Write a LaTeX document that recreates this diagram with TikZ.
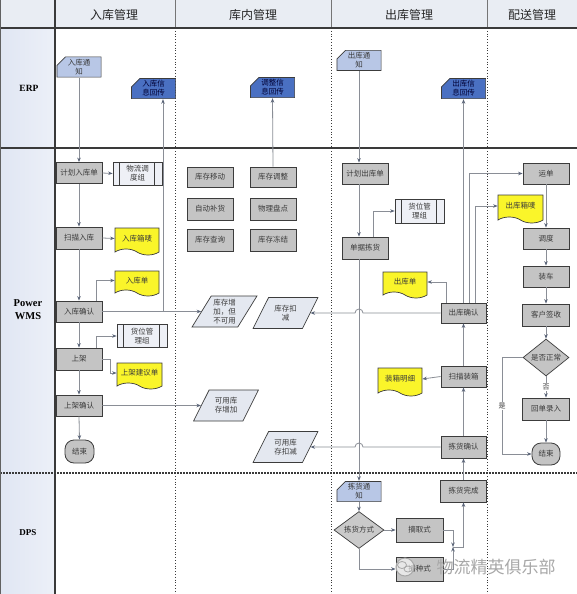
\documentclass[tikz,border=0pt]{standalone}
\usepackage{fontspec}
\setmainfont{Liberation Serif}
\newfontfamily\cjk{Noto Sans CJK SC}
\usetikzlibrary{shapes.geometric,shapes.misc,shapes.symbols,arrows.meta}
\definecolor{hdrfill}{HTML}{E9EDF3}
\definecolor{lanefill}{HTML}{E0E6F3}
\definecolor{gridline}{HTML}{3A3A3A}
\definecolor{boxgray}{HTML}{C4C4C4}
\definecolor{boxdraw}{HTML}{3C3C3C}
\definecolor{docyel}{HTML}{FAF52A}
\definecolor{cardlight}{HTML}{B8C7E6}
\definecolor{carddark}{HTML}{4A70C2}
\definecolor{paral}{HTML}{E4E8F0}
\definecolor{predfill}{HTML}{EEF0F6}
\definecolor{conn}{HTML}{8A8E96}
\definecolor{tipcol}{HTML}{5A6478}
\definecolor{txt}{HTML}{3A3A3A}
\definecolor{wmgray}{HTML}{A8A8A8}
\tikzset{
  every node/.style={font=\cjk\fontsize{7.5}{9}\selectfont, text=txt},
  proc/.style={rectangle, draw=boxdraw, fill=boxgray, line width=0.8pt, minimum width=46pt, minimum height=21pt, inner sep=1pt, align=center},
  docy/.style={tape, tape bend top=none, tape bend bottom=out and in, tape bend height=6pt, draw=boxdraw, fill=docyel, line width=0.7pt, minimum width=44pt, minimum height=26pt, inner sep=1pt, align=center},
  predef/.style={rectangle, draw=boxdraw, fill=predfill, line width=0.7pt, minimum width=49pt, minimum height=23pt, inner sep=1pt, align=center,
    path picture={\draw[boxdraw,line width=0.7pt] ([xshift=6pt]path picture bounding box.north west) -- ([xshift=6pt]path picture bounding box.south west);
                  \draw[boxdraw,line width=0.7pt] ([xshift=-8pt]path picture bounding box.north east) -- ([xshift=-8pt]path picture bounding box.south east);}},
  cardfill/.store in=\cardcol, cardfill=cardlight,
  cardl/.style={rectangle, cardfill=cardlight, minimum width=45pt, minimum height=21pt, inner sep=1pt, align=center,
    path picture={\filldraw[fill=\cardcol, draw=boxdraw, line width=0.7pt]
      ([xshift=0.4pt,yshift=0.4pt]path picture bounding box.south west) --
      ([xshift=0.4pt,yshift=-9pt]path picture bounding box.north west) --
      ([xshift=9pt,yshift=-0.4pt]path picture bounding box.north west) --
      ([xshift=-0.4pt,yshift=-0.4pt]path picture bounding box.north east) --
      ([xshift=-0.4pt,yshift=0.4pt]path picture bounding box.south east) -- cycle;}},
  cardd/.style={cardl, cardfill=carddark, text=black!80!blue},
  para/.style={trapezium, trapezium left angle=57, trapezium right angle=123, trapezium stretches=true, draw=boxdraw, fill=paral, line width=0.7pt, minimum width=65pt, minimum height=31pt, inner sep=0pt, align=center},
  decis/.style={diamond, draw=boxdraw, fill=boxgray, line width=0.7pt, minimum width=46pt, minimum height=31pt, inner sep=0pt, align=center},
  term/.style={rectangle, rounded corners=9pt, draw=boxdraw, fill=boxgray, line width=0.8pt, minimum width=29pt, minimum height=23pt, inner sep=1pt},
  arr/.style={draw=conn, line width=0.8pt, -{Stealth[length=4.5pt,width=3.5pt,color=tipcol]}},
  lbl/.style={font=\cjk\fontsize{7}{8}\selectfont, fill=white, inner sep=1pt},
  hdrtext/.style={font=\cjk\fontsize{12}{14}\selectfont, text=black!85},
  lanetext/.style={font=\bfseries\fontsize{9.5}{11}\selectfont, text=black, align=center},
}
\begin{document}
\begin{tikzpicture}[x=1pt,y=-1pt]
\useasboundingbox (0,0) rectangle (577,594);
\fill[white] (0,0) rectangle (577,594);
% header and lane column
\fill[hdrfill] (0,0) rectangle (577,28);
\shade[left color=lanefill, right color=lanefill!60!white] (0,28) rectangle (55,594);
\draw[gridline!70, line width=1pt] (175,0) -- (175,28) (331,0) -- (331,28) (487,0) -- (487,28);
\draw[gridline, line width=0.8pt, dotted] (175,28) -- (175,594) (331,28) -- (331,594) (487,28) -- (487,594);
\draw[gridline, line width=1.3pt] (0,28) -- (577,28);
\draw[gridline, line width=1.1pt] (0,148) -- (577,148);
\draw[gridline, line width=1.1pt, dash pattern=on 2pt off 1pt] (0,473) -- (577,473);
\draw[gridline, line width=1.4pt] (55,0) -- (55,594);
\draw[gridline!80, line width=1pt] (0,0) rectangle (577,594);
\node[hdrtext] (h1) at (114,15) {入库管理};
\node[hdrtext] (h2) at (253,15) {库内管理};
\node[hdrtext] (h3) at (409,15) {出库管理};
\node[hdrtext] (h4) at (532,15) {配送管理};
\node[lanetext] (l1) at (29,88) {ERP};
\node[lanetext, font=\bfseries\fontsize{10.5}{13}\selectfont] (l2) at (28,310) {Power\\WMS};
\node[lanetext, font=\bfseries\fontsize{9}{11}\selectfont] (l3) at (28,533) {DPS};

% ERP
\node[cardl] (rktz) at (79,67) {入库通\\知};
\node[cardd] (rkhc) at (153.5,88.5) {入库信\\息回传};
\node[cardd] (tzhc) at (272.5,87.5) {调整信\\息回传};
\node[cardl] (cktz) at (359,60.5) {出库通\\知};
\node[cardd] (ckhc) at (463.5,88.5) {出库信\\息回传};

% WMS inbound
\node[proc] (jhrk) at (79,173) {计划入库单};
\node[predef] (wldd) at (137.5,173.5) {物流调\\度组};
\node[proc, minimum height=22pt] (smrk) at (79,238) {扫描入库};
\node[docy, minimum height=27pt] (rkxm) at (137,238.5) {入库箱唛};
\node[docy, minimum height=25pt] (rkd) at (137,280.5) {入库单};
\node[proc] (rkqr) at (79,311.5) {入库确认};
\node[predef, minimum width=50pt] (hwgla) at (142,336) {货位管\\理组};
\node[proc, minimum height=22pt] (sj) at (79,359) {上架};
\node[docy, minimum width=45pt] (sjjy) at (139.5,373) {上架建议单};
\node[proc] (sjqr) at (79,405.5) {上架确认};
\node[term] (jsa) at (79.5,451.5) {结束};

% WMS warehouse
\node[proc, minimum height=20pt] (kcyd) at (210,177) {库存移动};
\node[proc, minimum height=20pt] (kctz) at (273,177) {库存调整};
\node[proc, minimum height=22pt] (zdbh) at (210,209) {自动补货};
\node[proc, minimum height=22pt] (wlpd) at (273,209) {物理盘点};
\node[proc, minimum height=22pt] (kccx) at (210,240) {库存查询};
\node[proc, minimum height=22pt] (kcdj) at (273,240) {库存冻结};
\node[para] (zjbky) at (224.5,311.5) {库存增\\加，但\\不可用};
\node[para] (kckj) at (285.5,313) {库存扣\\减};
\node[para] (kyzj) at (226,405.5) {可用库\\存增加};
\node[para] (kykj) at (285.5,447) {可用库\\存扣减};

% WMS outbound
\node[proc] (jhck) at (365,173.5) {计划出库单};
\node[predef, minimum height=24pt] (hwglb) at (419.5,211) {货位管\\理组};
\node[proc, minimum height=22pt] (djjh) at (365,248) {单据拣货};
\node[docy] (ckd) at (405,282) {出库单};
\node[proc, minimum width=45pt, minimum height=20pt] (ckqr) at (463.5,313) {出库确认};
\node[docy, minimum height=28pt] (zxmx) at (400,379) {装箱明细};
\node[proc, minimum width=45pt] (smzx) at (463.5,376.5) {扫描装箱};
\node[proc, minimum width=45pt, minimum height=22pt] (jhqr) at (463.5,447) {拣货确认};

% delivery
\node[proc] (yd) at (546,173.5) {运单};
\node[docy, minimum width=45pt, minimum height=28pt] (ckxm) at (520.5,206) {出库箱唛};
\node[proc] (dd) at (546,238.5) {调度};
\node[proc] (zc) at (546,276.5) {装车};
\node[proc, minimum width=47pt, minimum height=22pt] (khqs) at (546,315) {客户签收};
\node[decis] (sfzc) at (546,357.5) {是否正常};
\node[proc, minimum width=47pt, minimum height=22pt] (hdlr) at (546,409) {回单录入};
\node[term, minimum width=28pt, minimum height=22pt] (jsb) at (546,454) {结束};

% DPS
\node[cardl] (jhtz) at (359,491.5) {拣货通\\知};
\node[decis, minimum width=50pt, minimum height=26pt, fill=boxgray!90!white] (jhfs) at (359,530) {拣货方式};
\node[proc, minimum width=47pt, minimum height=24pt] (zqs) at (419.5,530) {摘取式};
\node[proc, minimum width=47pt, minimum height=24pt] (bzs) at (419.5,569) {播种式};
\node[proc, minimum height=22pt] (jhwc) at (463.5,491) {拣货完成};

% connectors inbound
\draw[arr] (rktz.south) -- (jhrk.north);
\draw[arr] (jhrk.south) -- (smrk.north);
\draw[arr] (smrk.south) -- (rkqr.north);
\draw[arr] (rkqr.south) -- (sj.north);
\draw[arr] (sj.south) -- (sjqr.north);
\draw[arr] (sjqr.south) -- (jsa.north);
\draw[arr] (jhrk.east) -- (wldd.west);
\draw[arr] (smrk.east) -- (rkxm.west);
\draw[arr] ([xshift=17pt]rkqr.north) |- (rkd.west);
\draw[arr] (rkqr.east) -| ([xshift=9.5pt]rkhc.south);
\draw[arr] (rkqr.east) -- (zjbky.west);
\draw[arr] ([xshift=17pt]sj.north) |- (hwgla.west);
\draw[arr] (sj.east) -- ++(8,0) |- (sjjy.west);
\draw[arr] (sjqr.east) -- (kyzj.west);
% warehouse
\draw[arr] (kctz.north) -- (tzhc.south);
% outbound
\draw[arr] (cktz.south) -- (cktz.south |- jhck.north);
\draw[arr] (cktz.south |- jhck.south) -- (cktz.south |- djjh.north);
\draw[arr] (cktz.south |- djjh.south) -- (jhtz.north);
\draw[arr] ([xshift=8pt]djjh.north) |- (hwglb.west);
\draw[arr] ([xshift=-17.5pt]ckqr.north) |- (ckd.east);
\draw[arr] (ckqr.north) -- (ckhc.south);
\draw[arr] ([xshift=5.5pt]ckqr.north) |- (yd.west);
\draw[arr] ([xshift=11.5pt]ckqr.north) |- (ckxm.west);
\draw[arr] (ckqr.west) -- (363,313) arc[start angle=0,end angle=-180,radius=4] -- (kckj.east);
\draw[arr] (smzx.north) -- (ckqr.south);
\draw[arr] (jhqr.north) -- (smzx.south);
\draw[arr] (smzx.west) -- (zxmx.east);
\draw[arr] (jhqr.west) -- (363,447) arc[start angle=0,end angle=-180,radius=4] -- (kykj.east);
% delivery
\draw[arr] (yd.south) -- (dd.north);
\draw[arr] (dd.south) -- (zc.north);
\draw[arr] (zc.south) -- (khqs.north);
\draw[arr] (khqs.south) -- (sfzc.north);
\draw[arr] (sfzc.south) -- node[lbl] (no) {否} (hdlr.north);
\draw[arr] (hdlr.south) -- (jsb.north);
\coordinate (yesc) at (502,357.5);
\draw[arr] (sfzc.west) -- (yesc) |- node[lbl, pos=0.25] (yes) {是} (jsb.west);
% DPS
\draw[arr] (jhwc.north) -- (jhqr.south);
\draw[arr] (jhtz.south) -- (jhfs.north);
\draw[arr] (jhfs.east) -- (zqs.west);
\draw[arr] (jhfs.south) |- (bzs.west);
\coordinate (mrg) at (453,547);
\draw[arr] (zqs.east) -| (mrg);
\draw[arr] (bzs.east) -| (mrg);
\draw[arr] (mrg) -| (jhwc.south);

% watermark
\draw[wmgray, line width=1pt, fill=white, fill opacity=0.6] (405,567) circle (9);
\draw[wmgray, line width=0.8pt] (402,565) ellipse (4.5 and 3.5);
\draw[wmgray, line width=0.8pt] (408,569) ellipse (4 and 3);
\node[font=\cjk\fontsize{17}{20}\selectfont, text=wmgray] (wm) at (496,567) {物流精英俱乐部};
\end{tikzpicture}
\end{document}
